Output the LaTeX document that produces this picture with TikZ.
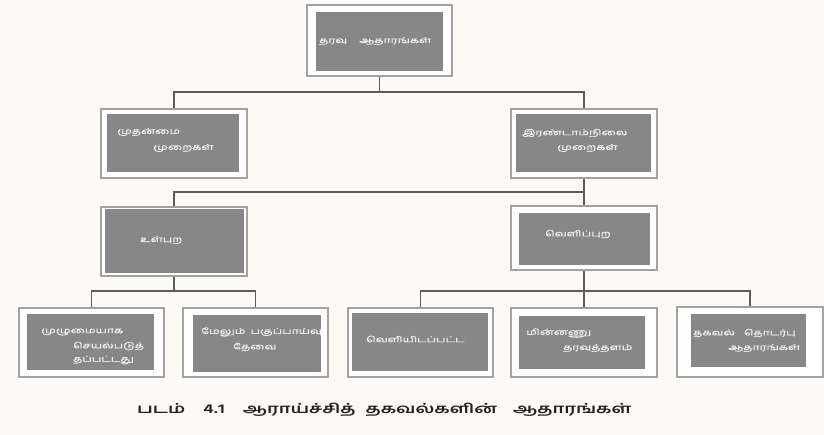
\documentclass[tikz,border=0pt]{standalone}
\usepackage{fontspec}
\newfontfamily\tamilbox[Script=Tamil,FakeStretch=1.5,FakeBold=0.8]{Hind Madurai}
\newfontfamily\tamilcap[Script=Tamil,FakeStretch=1.45]{Hind Madurai}
\definecolor{paper}{HTML}{FDFAF6}
\definecolor{boxgray}{HTML}{878787}
\definecolor{framegray}{HTML}{A2A2A2}
\definecolor{linkgray}{HTML}{5C5C5C}
\definecolor{labelwhite}{HTML}{F2F2F2}
\definecolor{captionink}{HTML}{222222}
\tikzset{
  frame/.style={draw=framegray, fill=white, line width=1.2pt, inner sep=0pt},
  panel/.style={fill=boxgray, draw=none},
  link/.style={draw=linkgray, line width=1.6pt},
  lbl/.style={text=labelwhite, font=\tamilbox\fontsize{8}{9}\selectfont, inner sep=0pt, anchor=west},
  caption/.style={text=captionink, font=\tamilcap\bfseries\fontsize{13}{15}\selectfont, inner sep=0pt, anchor=west}
}
% #1 name, (#2,#3) top-left corner, (#4,#5) bottom-right corner
\newcommand{\chartbox}[5]{%
  \node[frame, minimum width={(#4-#2)*1pt}, minimum height={(#5-#3)*1pt}] (#1) at ({(#2+#4)/2},{(#3+#5)/2}) {};}
\newcommand{\gap}[1]{\hspace{#1pt}}
\begin{document}
\begin{tikzpicture}[x=1pt, y=-1pt]
  \fill[paper] (0,0) rectangle (824,435);
  \useasboundingbox (0,0) rectangle (824,435);

  % outer white frames
  \chartbox{top}{307}{5}{452}{76}
  \chartbox{mL}{101}{109}{247}{178}
  \chartbox{mR}{511}{109}{657}{178}
  \chartbox{inn}{101}{207}{247}{276}
  \chartbox{ext}{511}{206}{657}{270}
  \chartbox{b1}{19}{308}{164}{377}
  \chartbox{b2}{183}{308}{328}{377}
  \chartbox{b3}{348}{308}{493}{377}
  \chartbox{b4}{511}{308}{657}{377}
  \chartbox{b5}{677}{307}{823}{377}

  % grey panels inside the frames
  \fill[panel] (316,12) rectangle (443,71);
  \fill[panel] (107,114) rectangle (239,172);
  \fill[panel] (516,114) rectangle (651,172);
  \fill[panel] (105,209) rectangle (244,273);
  \fill[panel] (519,213) rectangle (650,265);
  \fill[panel] (27,314) rectangle (154,370);
  \fill[panel] (193,315) rectangle (321,372);
  \fill[panel] (352,313) rectangle (488,371);
  \fill[panel] (519,316) rectangle (645,369);
  \fill[panel] (691,314) rectangle (806,367);

  % labels
  \node[lbl] (tTop) at (319,41) {தரவு\gap{12}ஆதாரங்கள்};
  \node[lbl] (tmL1) at (117,132) {முதன்மை};
  \node[lbl] (tmL2) at (153,148) {முறைகள்};
  \node[lbl] (tmR1) at (522,133) {இரண்டாம்நிலை};
  \node[lbl] (tmR2) at (557,148) {முறைகள்};
  \node[lbl] (tIn) at (140,240) {உள்புற};
  \node[lbl] (tEx) at (545,234) {வெளிப்புற};
  \node[lbl] (tb1a) at (41,332) {முழுமையாக};
  \node[lbl] (tb1b) at (73,346) {செயல்படுத்};
  \node[lbl] (tb1c) at (73,360) {தப்பட்டது};
  \node[lbl] (tb2a) at (201,332) {மேலும்\gap{5}பகுப்பாய்வு};
  \node[lbl] (tb2b) at (233,347) {தேவை};
  \node[lbl] (tb3) at (366,339) {வெளியிடப்பட்ட};
  \node[lbl] (tb4a) at (526,333) {மின்னணு};
  \node[lbl] (tb4b) at (563,348) {தரவுத்தளம்};
  \node[lbl] (tb5a) at (693,333) {தகவல்\gap{9}தொடர்பு};
  \node[lbl] (tb5b) at (728,348) {ஆதாரங்கள்};

  % caption
  \node[caption] (cap) at (137,410) {படம்\gap{18}4.1\gap{18}ஆராய்ச்சித்\gap{10}தகவல்களின்\gap{16}ஆதாரங்கள்};

  % junctions
  \coordinate (j1) at (379.5,92);
  \coordinate (j2) at (584,192);
  \coordinate (j3) at (174,291);
  \coordinate (j4) at (584,291);

  % connectors
  \draw[link] (top.south) -- (j1);
  \draw[link] (mL.north) |- (j1) -| (mR.north);
  \draw[link] (mR.south) -- (ext.north);
  \draw[link] (inn.north) |- (j2);
  \draw[link] (inn.south) -- (j3);
  \draw[link] (b1.north) |- (j3) -| (b2.north);
  \draw[link] (ext.south) -- (j4);
  \draw[link] (b3.north) |- (j4) -| (b5.north);
  \draw[link] (j4) -- (b4.north);
\end{tikzpicture}
\end{document}
